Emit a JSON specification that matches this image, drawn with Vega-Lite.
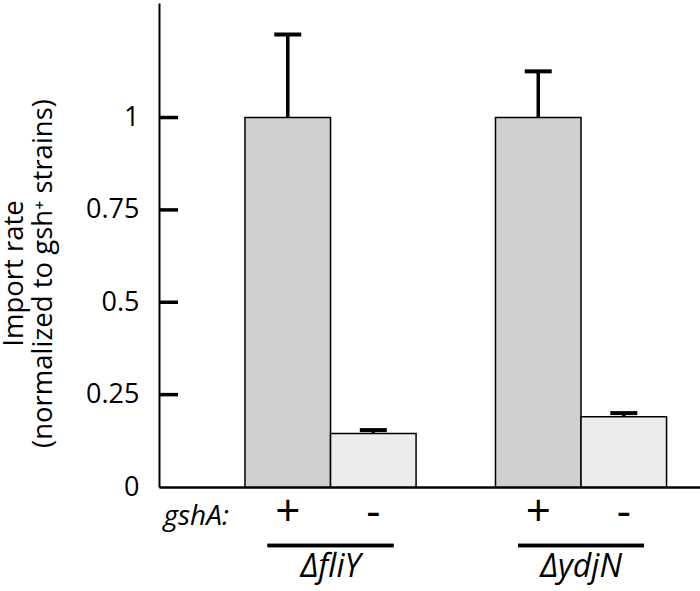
{
  "$schema": "https://vega.github.io/schema/vega-lite/v6.json",
  "width": 541,
  "height": 484,
  "autosize": {"type": "none"},
  "padding": {"left": 159, "top": 3, "right": 0, "bottom": 104},
  "background": "white",
  "config": {
    "view": {"stroke": null},
    "font": "Open Sans"
  },
  "data": {
    "values": [
      {"strain": "ΔfliY", "gshA": "+", "value": 1.0, "upper": 1.225},
      {"strain": "ΔfliY", "gshA": "-", "value": 0.145, "upper": 0.154},
      {"strain": "ΔydjN", "gshA": "+", "value": 1.0, "upper": 1.125},
      {"strain": "ΔydjN", "gshA": "-", "value": 0.19, "upper": 0.2}
    ]
  },
  "resolve": {"scale": {"x": "independent"}, "axis": {"x": "independent"}},
  "layer": [
    {
      "mark": {"type": "bar", "stroke": "black", "strokeWidth": 1.5},
      "encoding": {
        "x": {
          "field": "strain",
          "type": "nominal",
          "scale": {"domain": ["ΔfliY", "ΔydjN"], "paddingInner": 0.317, "paddingOuter": 0.2384, "align": 0.72},
          "axis": {
            "title": "gshA:",
            "titleFontStyle": "italic",
            "titleFontWeight": "normal",
            "titleFontSize": 28,
            "titleColor": "black",
            "titleAngle": 0,
            "titleAlign": "left",
            "titleAnchor": "start",
            "titleBaseline": "middle",
            "titleX": 4,
            "titleY": 29,
            "labelAngle": 0,
            "labelFontStyle": "italic",
            "labelFontSize": 32,
            "labelColor": "black",
            "labelPadding": 64,
            "ticks": false,
            "domainColor": "black",
            "domainWidth": 2.5
          }
        },
        "xOffset": {"field": "gshA", "type": "nominal", "scale": {"domain": ["+", "-"], "paddingInner": 0, "paddingOuter": 0}},
        "y": {
          "field": "value",
          "type": "quantitative",
          "scale": {"domain": [0, 1.31], "nice": false},
          "axis": {
            "values": [0, 0.25, 0.5, 0.75, 1],
            "format": "~g",
            "grid": false,
            "ticks": false,
            "domainColor": "black",
            "domainWidth": 2,
            "labelFontSize": 27,
            "labelColor": "black",
            "labelPadding": 20,
            "title": ["Import rate", "(normalized to gsh⁺ strains)"],
            "titleFontSize": 27.5,
            "titleFontWeight": "normal",
            "titleColor": "black",
            "titleBaseline": "alphabetic",
            "titleLineHeight": 29,
            "titleX": -137,
            "titleY": 270
          }
        },
        "color": {
          "field": "gshA",
          "type": "nominal",
          "scale": {"domain": ["+", "-"], "range": ["#d0d0d0", "#ececec"]},
          "legend": null
        }
      }
    },
    {
      "mark": {"type": "rule", "color": "black", "strokeWidth": 3.5},
      "encoding": {
        "x": {"field": "strain", "type": "nominal", "scale": {"domain": ["ΔfliY", "ΔydjN"], "paddingInner": 0.317, "paddingOuter": 0.2384, "align": 0.72}, "axis": null},
        "xOffset": {"field": "gshA", "type": "nominal", "scale": {"domain": ["+", "-"], "paddingInner": 0, "paddingOuter": 0}},
        "y": {"field": "value", "type": "quantitative"},
        "y2": {"field": "upper"}
      }
    },
    {
      "mark": {"type": "tick", "color": "black", "orient": "horizontal", "size": 27, "thickness": 4, "opacity": 1},
      "encoding": {
        "x": {"field": "strain", "type": "nominal", "scale": {"domain": ["ΔfliY", "ΔydjN"], "paddingInner": 0.317, "paddingOuter": 0.2384, "align": 0.72}, "axis": null},
        "xOffset": {"field": "gshA", "type": "nominal", "scale": {"domain": ["+", "-"], "paddingInner": 0, "paddingOuter": 0}},
        "y": {"field": "upper", "type": "quantitative"}
      }
    },
    {
      "mark": {"type": "text", "fontSize": 44, "color": "black", "baseline": "middle", "align": "center"},
      "encoding": {
        "x": {"field": "strain", "type": "nominal", "scale": {"domain": ["ΔfliY", "ΔydjN"], "paddingInner": 0.317, "paddingOuter": 0.2384, "align": 0.72}, "axis": null},
        "xOffset": {"field": "gshA", "type": "nominal", "scale": {"domain": ["+", "-"], "paddingInner": 0, "paddingOuter": 0}},
        "y": {"datum": -0.071, "type": "quantitative"},
        "text": {"field": "gshA"}
      }
    },
    {
      "mark": {"type": "tick", "color": "black", "orient": "horizontal", "size": 126, "thickness": 3.5, "opacity": 1},
      "encoding": {
        "x": {"field": "strain", "type": "nominal", "scale": {"domain": ["ΔfliY", "ΔydjN"], "paddingInner": 0.317, "paddingOuter": 0.2384, "align": 0.72}, "axis": null},
        "y": {"datum": -0.158, "type": "quantitative"}
      }
    },
    {
      "data": {"values": [{"tickValue": 0.25}, {"tickValue": 0.5}, {"tickValue": 0.75}, {"tickValue": 1}]},
      "mark": {"type": "tick", "color": "black", "orient": "horizontal", "size": 19, "thickness": 3.5, "opacity": 1},
      "encoding": {
        "x": {"datum": "y-axis", "type": "nominal", "scale": {"range": [0, 19], "paddingInner": 0, "paddingOuter": 0}, "axis": null},
        "y": {"field": "tickValue", "type": "quantitative"}
      }
    }
  ]
}
